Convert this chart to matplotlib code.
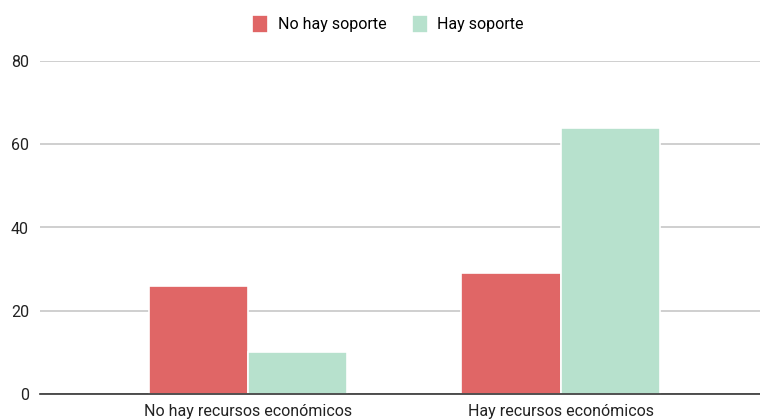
import matplotlib.pyplot as plt
import numpy as np

plt.rcParams['font.family'] = ['Roboto', 'DejaVu Sans']

categories = ["No hay recursos económicos", "Hay recursos económicos"]
series_names = ["No hay soporte", "Hay soporte"]
no_soporte = [26, 29]
hay_soporte = [10, 64]
colors = ["#e06666", "#b7e1cd"]
yticks = [0, 20, 40, 60, 80]

fig = plt.figure(figsize=(7.6, 4.19), dpi=100)
ax = fig.add_axes([40 / 760, 25 / 419, 720 / 760, 333 / 419])

x = np.arange(len(categories))
w = 0.318
ax.bar(x - w / 2, no_soporte, w, color=colors[0], edgecolor="white",
       linewidth=1.2, label=series_names[0], zorder=3)
ax.bar(x + w / 2, hay_soporte, w, color=colors[1], edgecolor="white",
       linewidth=1.2, label=series_names[1], zorder=3)

ax.set_xlim(-0.6656, 1.638)
ax.set_ylim(0, 80)
ax.set_yticks(yticks)
ax.set_xticks(x)
ax.set_xticklabels(categories)
ax.tick_params(axis="both", length=0, labelsize=11.5, colors="#222222")
ax.tick_params(axis="y", pad=8)
ax.tick_params(axis="x", pad=7)

# light horizontal gridlines, dark baseline
ax.grid(axis="y", color="#cccccc", linewidth=1.3, zorder=0)
for side in ["top", "right", "left"]:
    ax.spines[side].set_visible(False)
ax.spines["bottom"].set_color("#333333")
ax.spines["bottom"].set_linewidth(1.2)
ax.spines["bottom"].set_zorder(4)

fig.legend(loc="center", bbox_to_anchor=(388 / 760, 1 - 24 / 419), ncol=2,
           frameon=False, fontsize=11.5, handlelength=1.0, handleheight=1.3,
           handletextpad=0.6, columnspacing=1.6)

fig.savefig("out.png", dpi=100)
